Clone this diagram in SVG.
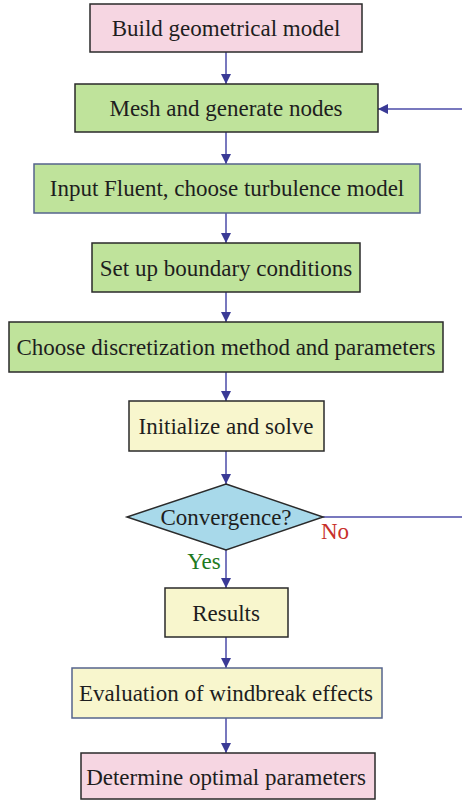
<svg xmlns="http://www.w3.org/2000/svg" width="462" height="800" viewBox="0 0 462 800">
  <style>
    .box { stroke: #2a2a2a; stroke-width: 1.5; }
    .soft { stroke: #55648c; stroke-width: 1.5; }
    .pink { fill: #f6d6e2; }
    .green { fill: #bfe39b; }
    .yellow { fill: #f8f6cd; }
    .dia { fill: #a8d9ea; }
    .lbl { font-family: "Liberation Serif", "Times New Roman", Times, "DejaVu Serif", serif; font-size: 23px; fill: #1e1e1e; text-anchor: middle; }
    .tag { font-family: "Liberation Serif", "Times New Roman", Times, "DejaVu Serif", serif; font-size: 23px; text-anchor: middle; }
    .edge { stroke: #4b4ba8; stroke-width: 1.5; fill: none; }
  </style>
  <defs>
    <marker id="arrow" markerWidth="10" markerHeight="10" refX="10" refY="5" orient="auto" markerUnits="userSpaceOnUse">
      <path d="M0,0 L10,5 L0,10 Z" fill="#3a3a96"/>
    </marker>
  </defs>
  <rect width="462" height="800" fill="#ffffff"/>

  <g id="connectors">
    <line class="edge" x1="226" y1="52" x2="226" y2="84" marker-end="url(#arrow)"/>
    <line class="edge" x1="226" y1="132" x2="226" y2="164" marker-end="url(#arrow)"/>
    <line class="edge" x1="226" y1="213" x2="226" y2="243" marker-end="url(#arrow)"/>
    <line class="edge" x1="226" y1="292" x2="226" y2="322" marker-end="url(#arrow)"/>
    <line class="edge" x1="226" y1="372" x2="226" y2="401" marker-end="url(#arrow)"/>
    <line class="edge" x1="226" y1="451" x2="226" y2="484" marker-end="url(#arrow)"/>
    <line class="edge" x1="226" y1="550" x2="226" y2="588" marker-end="url(#arrow)"/>
    <line class="edge" x1="226" y1="637" x2="226" y2="668" marker-end="url(#arrow)"/>
    <line class="edge" x1="226" y1="718" x2="226" y2="753" marker-end="url(#arrow)"/>
    <line class="edge" x1="323" y1="517" x2="462" y2="517"/>
    <line class="edge" x1="462" y1="109" x2="378" y2="109" marker-end="url(#arrow)"/>
    <text class="tag" x="335" y="539" fill="#c8302a">No</text>
    <text class="tag" x="204" y="569" fill="#1f7a1f">Yes</text>
  </g>

  <g id="build">
    <rect class="box pink" x="90" y="4" width="272" height="48"/>
    <text class="lbl" x="226" y="36">Build geometrical model</text>
  </g>
  <g id="mesh">
    <rect class="box green" x="75" y="84" width="303" height="48"/>
    <text class="lbl" x="226" y="116">Mesh and generate nodes</text>
  </g>
  <g id="fluent">
    <rect class="soft green" x="34" y="164" width="386" height="49"/>
    <text class="lbl" x="227" y="196">Input Fluent, choose turbulence model</text>
  </g>
  <g id="boundary">
    <rect class="box green" x="92" y="243" width="268" height="49"/>
    <text class="lbl" x="226" y="276">Set up boundary conditions</text>
  </g>
  <g id="discretization">
    <rect class="box green" x="9" y="322" width="434" height="50"/>
    <text class="lbl" x="226" y="355">Choose discretization method and parameters</text>
  </g>
  <g id="solve">
    <rect class="box yellow" x="129" y="401" width="195" height="50"/>
    <text class="lbl" x="226" y="434">Initialize and solve</text>
  </g>
  <g id="convergence">
    <polygon class="box dia" points="226,484 323,517 226,550 127,517"/>
    <text class="lbl" x="226" y="525">Convergence?</text>
  </g>
  <g id="results">
    <rect class="box yellow" x="165" y="588" width="123" height="49"/>
    <text class="lbl" x="226" y="621">Results</text>
  </g>
  <g id="evaluation">
    <rect class="soft yellow" x="72" y="668" width="310" height="50"/>
    <text class="lbl" x="226" y="701">Evaluation of windbreak effects</text>
  </g>
  <g id="optimal">
    <rect class="box pink" x="81" y="753" width="294" height="46"/>
    <text class="lbl" x="226" y="785">Determine optimal parameters</text>
  </g>
</svg>
